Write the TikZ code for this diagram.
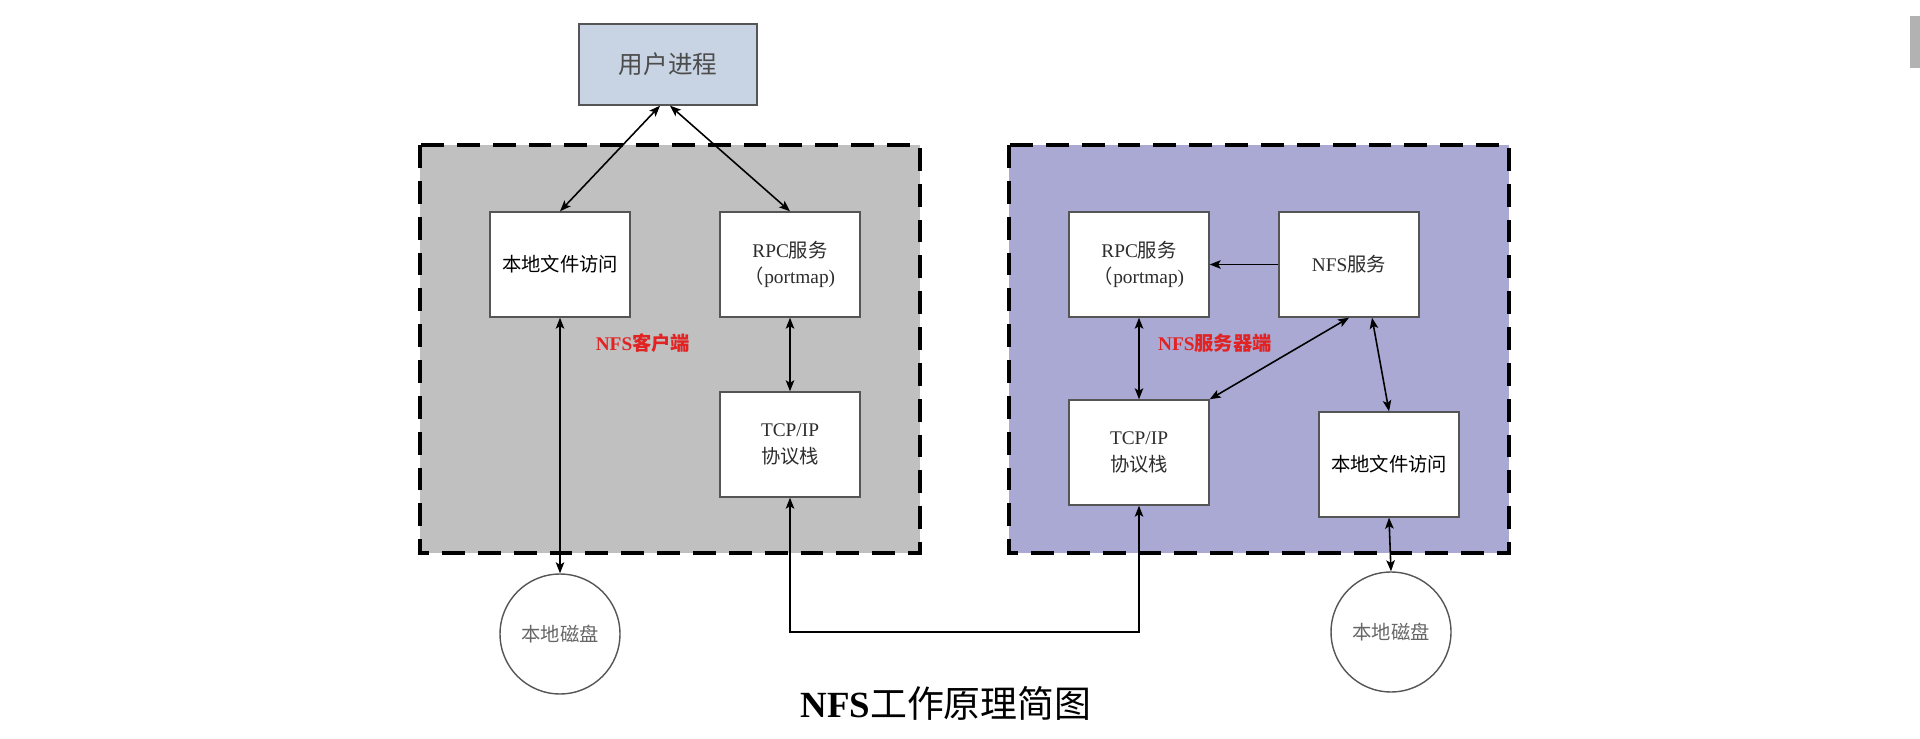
\documentclass[tikz,border=0pt]{standalone}
\usepackage{fontspec}
\setmainfont{Liberation Serif}
\newfontfamily\zhfont{Noto Sans CJK SC}
\usetikzlibrary{arrows.meta,calc}
\definecolor{nfsedge}{RGB}{85,85,85}
\definecolor{nfsproc}{RGB}{200,211,227}
\definecolor{nfscli}{RGB}{192,192,192}
\definecolor{nfssrv}{RGB}{169,169,211}
\definecolor{nfsred}{RGB}{225,35,35}
\definecolor{nfstxt}{RGB}{45,45,45}
\definecolor{nfsbar}{RGB}{178,178,178}
\tikzset{
  nfsbox/.style={
    draw=nfsedge, line width=0.8pt, fill=white,
    align=center, inner sep=0pt, text=nfstxt,
    minimum width=2.8cm, minimum height=2.1cm,
    font=\fontsize{11}{15}\selectfont
  },
  filebox/.style={nfsbox, text=black},
  procbox/.style={nfsbox, fill=nfsproc, text=black!70,
    minimum width=3.56cm, minimum height=1.62cm,
    font=\fontsize{14}{16}\selectfont},
  disk/.style={
    draw=nfsedge, line width=0.8pt, circle, fill=white, inner sep=0pt,
    minimum size=2.4cm, text=black!60, font=\fontsize{11}{13}\selectfont
  },
  grp/.style={draw=black, line width=1.9pt, dash pattern=on 13pt off 7.4pt},
  side/.style={text=nfsred, font=\bfseries\fontsize{11}{13}\selectfont},
  arr/.style={-{Stealth[length=2.2mm,width=1.7mm,inset=0.5mm]}, draw=black, line width=0.9pt},
  biarr/.style={arr, {Stealth[length=2.2mm,width=1.7mm,inset=0.5mm]}-{Stealth[length=2.2mm,width=1.7mm,inset=0.5mm]}}
}

\begin{document}
\begin{tikzpicture}[x=0.02cm,y=-0.02cm]
  \useasboundingbox (0,0) rectangle (1920,739);
  \fill[nfsbar] (1910,16) rectangle (1920,68);
  % client and server areas
  \fill[nfscli] (420,145) rectangle (920,553);
  \draw[grp] (420,145) rectangle (920,553);
  \fill[nfssrv] (1009,145) rectangle (1509,553);
  \draw[grp] (1009,145) rectangle (1509,553);

  \node[procbox] (proc) at (668,64.5) {\zhfont 用户进程};

  % client side
  \node[filebox] (cfile) at (560,264.5) {\zhfont 本地文件访问};
  \node[nfsbox] (crpc) at (790,264.5) {RPC{\zhfont 服务}\\{\zhfont （}portmap)};
  \node[nfsbox] (ctcp) at (790,444.5) {TCP/IP\\{\zhfont 协议栈}};
  \node[side] (clab) at (643,343) {NFS{\zhfont 客户端}};
  \node[disk] (cdisk) at (560,634) {\zhfont 本地磁盘};

  % server side
  \node[nfsbox] (srpc) at (1139,264.5) {RPC{\zhfont 服务}\\{\zhfont （}portmap)};
  \node[nfsbox] (snfs) at (1349,264.5) {NFS{\zhfont 服务}};
  \node[nfsbox] (stcp) at (1139,452.5) {TCP/IP\\{\zhfont 协议栈}};
  \node[filebox] (sfile) at (1389,464.5) {\zhfont 本地文件访问};
  \node[side] (slab) at (1215,343) {NFS{\zhfont 服务器端}};
  \node[disk] (sdisk) at (1391,632) {\zhfont 本地磁盘};

  \node[font=\fontsize{21}{24}\selectfont] (title) at (946,703) {{\bfseries NFS}{\zhfont 工作原理简图}};

  \draw[biarr] ($(proc.south)+(-8,0)$) -- (cfile.north);
  \draw[biarr] ($(proc.south)+(2,0)$) -- (crpc.north);
  \draw[biarr] (crpc.south) -- (ctcp.north);
  \draw[biarr] (cfile.south) -- (cdisk.north);

  \draw[arr] (snfs.west) -- (srpc.east);
  \draw[biarr] (srpc.south) -- (stcp.north);
  \draw[biarr] (snfs.south) -- (stcp.north east);
  \draw[biarr] ($(snfs.south)+(23,0)$) -- (sfile.north);
  \draw[biarr] (sfile.south) -- (sdisk.north);

  \coordinate (lnk) at (0,632);
  \draw[biarr] (ctcp.south) -- (ctcp.south |- lnk) -- (stcp.south |- lnk) -- (stcp.south);
\end{tikzpicture}
\end{document}
